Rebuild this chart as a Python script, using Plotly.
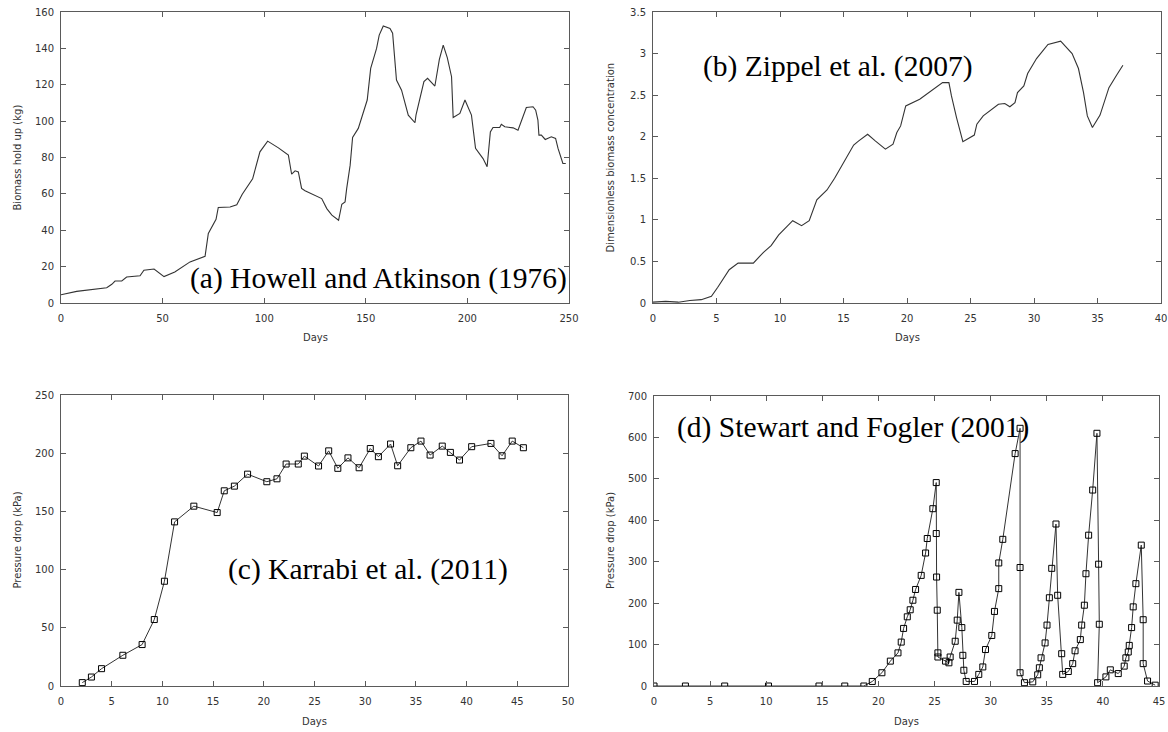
import plotly.graph_objects as go

# ---------------- data ----------------
a_days = [0, 7.7, 22.5, 25, 26.6, 29.9, 32.3, 38.9, 40.8, 45.8, 50.7, 56, 63.5, 70.9, 72.5, 76.3, 77.4,
          83.2, 86.5, 89.2, 94.3, 97.9, 101.7, 107, 111.9, 113.5, 115.2, 116.8, 118.4, 120.1, 128.3,
          130.8, 133.3, 136.6, 138.2, 139.8, 140.6, 142.3, 143.5, 146.3, 150.7, 152.4, 155.3, 156.6,
          158.6, 161.9, 163.2, 164.3, 165.1, 167.6, 170.9, 174.2, 174.7, 178.6, 180.4, 184, 186.2,
          188.1, 190.1, 192.2, 193, 196.3, 198.8, 202, 204, 207.7, 209.7, 211.3, 212.6, 215.9, 216.7,
          218.4, 222.5, 224.9, 229, 232.3, 233.6, 234.7, 235.2, 236.4, 238.3, 241.3, 243.4, 244.6,
          247, 248.4]
a_biomass = [4.5, 6.4, 8.4, 10.3, 12.1, 12.1, 14.3, 15, 18, 18.7, 14.5, 17, 22.6, 25.7, 38.2, 46, 52.5,
             52.8, 54, 59.8, 68.3, 83.1, 89, 85.3, 81.3, 70.8, 72.7, 72.1, 63, 61.7, 57.4, 51.9, 48.3,
             45.5, 54.3, 55.6, 63, 75.8, 91, 96, 111.6, 129, 140, 147.3, 152.3, 151, 148.3, 133.6,
             122.6, 117, 103.3, 99.1, 103.3, 121.7, 123.5, 119.3, 134, 141.8, 134.9, 124.4, 102, 104.2,
             111.6, 103.3, 85, 79.4, 74.9, 94.1, 96.5, 96.5, 98.3, 96.9, 96.3, 95, 107.5, 107.9, 106,
             100.6, 92.3, 92.3, 89.9, 91.4, 90.5, 85, 76.7, 76.7]

b_days = [0, 1, 2, 2.9, 3.8, 4.6, 5.1, 6, 6.7, 7.9, 8.7, 9.3, 9.9, 10.5, 11, 11.7, 12.3, 12.9, 13.7,
          14.3, 14.9, 15.8, 16.2, 16.9, 17.5, 18.3, 18.9, 19.2, 19.5, 19.9, 21, 21.7, 22.5, 22.8,
          23.3, 23.5, 23.9, 24.4, 25.3, 25.5, 26, 26.7, 27.2, 27.7, 28.1, 28.5, 28.7, 29.2, 29.5,
          30.2, 31.1, 32.1, 33, 33.5, 33.9, 34.2, 34.6, 35.2, 35.9, 36.5, 37]
b_conc = [0.01, 0.02, 0.01, 0.03, 0.04, 0.08, 0.19, 0.4, 0.48, 0.48, 0.61, 0.69, 0.82, 0.92, 0.99,
          0.93, 0.99, 1.24, 1.36, 1.5, 1.66, 1.9, 1.95, 2.03, 1.95, 1.85, 1.91, 2.05, 2.13, 2.37,
          2.45, 2.53, 2.62, 2.65, 2.65, 2.49, 2.23, 1.94, 2.02, 2.15, 2.25, 2.33, 2.39, 2.4, 2.36,
          2.41, 2.53, 2.61, 2.76, 2.94, 3.11, 3.15, 3.0, 2.82, 2.53, 2.25, 2.11, 2.26, 2.59, 2.74, 2.86]

c_days = [2.1, 3.0, 4.0, 6.1, 8.0, 9.2, 10.2, 11.2, 13.1, 15.4, 16.1, 17.1, 18.4, 20.3, 21.3, 22.2,
          23.4, 24.0, 25.4, 26.4, 27.3, 28.3, 29.4, 30.5, 31.3, 32.5, 33.2, 34.5, 35.5, 36.4, 37.6,
          38.4, 39.3, 40.5, 42.4, 43.5, 44.5, 45.6]
c_dp = [2.9, 7.7, 14.9, 26.4, 35.6, 57.1, 90, 141, 154.5, 149, 167.7, 171.7, 182, 175.5, 178, 190.7,
        190.7, 197.5, 189, 202, 187, 196, 187.5, 204, 197, 207.9, 189.2, 204.7, 210.4, 198.4, 206.1,
        200.7, 194.1, 205.6, 208.4, 197.8, 210.4, 204.7]

d_days = [0, 2.8, 6.3, 10.2, 14.7, 17.0, 18.7, 19.45, 20.31, 21.06, 21.74, 22.03, 22.24, 22.57, 22.83,
          23.07, 23.31, 23.81, 24.2, 24.35, 24.85, 25.15, 25.15, 25.18, 25.24, 25.3, 25.3, 25.98,
          26.28, 26.39, 26.84, 27.02, 27.17, 27.43, 27.52, 27.61, 27.82, 28.56, 28.94, 29.3, 29.54,
          30.1, 30.34, 30.72, 30.72, 31.08, 32.18, 32.62, 32.62, 32.62, 33.01, 33.75, 34.19, 34.34,
          34.49, 34.85, 35.02, 35.23, 35.44, 35.82, 35.97, 36.33, 36.42, 36.92, 37.31, 37.52, 37.99,
          38.11, 38.35, 38.49, 38.73, 39.09, 39.47, 39.62, 39.68, 39.53, 40.27, 40.66, 41.37, 41.9,
          42.05, 42.26, 42.35, 42.56, 42.7, 42.94, 43.42, 43.59, 43.59, 43.98, 44.66]
d_dp = [0, 0, 0, 0, 0, 0, 0, 11, 32, 60, 80, 106, 139, 167, 184, 207, 233, 267, 321, 356, 428, 491,
        368, 263, 183, 80, 70, 60, 56, 70, 108, 159, 226, 141, 74, 38, 11, 11, 28, 46, 88, 122, 180,
        235, 297, 354, 561, 622, 286, 32, 8, 10, 27, 44, 68, 104, 147, 213, 284, 391, 219, 78, 28,
        35, 54, 85, 112, 147, 195, 271, 364, 473, 610, 294, 149, 8, 22, 39, 30, 48, 68, 82, 98, 141,
        191, 247, 340, 160, 54, 12, 2]

panel_labels = ["(a) Howell and Atkinson (1976)", "(b) Zippel et al. (2007)",
                "(c) Karrabi et al. (2011)", "(d) Stewart and Fogler (2001)"]
y_titles = ["Biomass hold up (kg)", "Dimensionless biomass concentration",
            "Pressure drop (kPa)", "Pressure drop (kPa)"]
x_title = "Days"

# ---------------- figure ----------------
W, H = 1168, 732
fig = go.Figure()

line_style = dict(color="#333333", width=1.1)
fig.add_trace(go.Scatter(x=a_days, y=a_biomass, mode="lines", line=line_style,
                         xaxis="x", yaxis="y", showlegend=False))
fig.add_trace(go.Scatter(x=b_days, y=b_conc, mode="lines", line=line_style,
                         xaxis="x2", yaxis="y2", showlegend=False))
mk = dict(symbol="square-open", size=6, color="black", line=dict(width=1, color="black"))
fig.add_trace(go.Scatter(x=c_days, y=c_dp, mode="lines+markers", line=dict(color="#333333", width=1),
                         marker=mk, xaxis="x3", yaxis="y3", showlegend=False))
fig.add_trace(go.Scatter(x=d_days, y=d_dp, mode="lines+markers", line=dict(color="#333333", width=1),
                         marker=mk, xaxis="x4", yaxis="y4", showlegend=False))


def px_x(p):
    return p / W


def px_y(p):
    return 1 - p / H


tickfont = dict(family="DejaVu Sans", size=10, color="#333333")
axis_common = dict(showline=True, linecolor="#5a5a5a", linewidth=1, mirror="ticks",
                   ticks="inside", ticklen=5, tickcolor="#5a5a5a", tickwidth=1,
                   showgrid=False, zeroline=False, tickfont=tickfont, automargin=False)

# pixel boxes: (left, right, top, bottom)
boxes = [(61, 569, 12, 303), (653, 1161, 12, 303), (61, 568, 395, 686), (654, 1159, 396, 686)]
xranges = [[0, 250], [0, 40], [0, 50], [0, 45]]
xdtick = [50, 5, 5, 5]
yranges = [[0, 160], [0, 3.5], [0, 250], [0, 700]]
ydtick = [20, 0.5, 50, 100]

layout = dict(width=W, height=H, margin=dict(l=0, r=0, t=0, b=0),
              paper_bgcolor="white", plot_bgcolor="white")
for i, (l, r, t, b) in enumerate(boxes):
    sfx = "" if i == 0 else str(i + 1)
    layout["xaxis" + sfx] = dict(axis_common, domain=[px_x(l), px_x(r)], range=xranges[i],
                                 dtick=xdtick[i], tick0=0, anchor="y" + sfx,
                                 ticklabelstandoff=6)
    layout["yaxis" + sfx] = dict(axis_common, domain=[px_y(b), px_y(t)], range=yranges[i],
                                 dtick=ydtick[i], tick0=0, anchor="x" + sfx,
                                 ticklabelstandoff=4)
fig.update_layout(**layout)

annos = []
title_font = dict(family="DejaVu Sans", size=10, color="#333333")
ytitle_x = [17, 610, 17, 610]
for i, (l, r, t, b) in enumerate(boxes):
    annos.append(dict(text=x_title, xref="paper", yref="paper", x=px_x((l + r) / 2),
                      y=px_y(b + 35), showarrow=False, font=title_font,
                      xanchor="center", yanchor="middle"))
    annos.append(dict(text=y_titles[i], xref="paper", yref="paper", x=px_x(ytitle_x[i]),
                      y=px_y((t + b) / 2), showarrow=False, font=title_font, textangle=-90,
                      xanchor="center", yanchor="middle"))

label_font = dict(family="Liberation Serif, Times New Roman, serif", size=29.5, color="black")
annos.append(dict(text=panel_labels[0], xref="x", yref="y", x=250, y=13.3, xanchor="right",
                  yanchor="middle", showarrow=False, font=label_font))
annos.append(dict(text=panel_labels[1], xref="x2", yref="y2", x=14.6, y=2.85, xanchor="center",
                  yanchor="middle", showarrow=False, font=label_font))
annos.append(dict(text=panel_labels[2], xref="x3", yref="y3", x=30.3, y=100, xanchor="center",
                  yanchor="middle", showarrow=False, font=label_font))
annos.append(dict(text=panel_labels[3], xref="x4", yref="y4", x=17.75, y=623, xanchor="center",
                  yanchor="middle", showarrow=False, font=label_font))
fig.update_layout(annotations=annos)

fig.write_html("out.html", config={"displayModeBar": False},
               post_script="document.body.style.margin='0';document.body.style.overflow='hidden';")
